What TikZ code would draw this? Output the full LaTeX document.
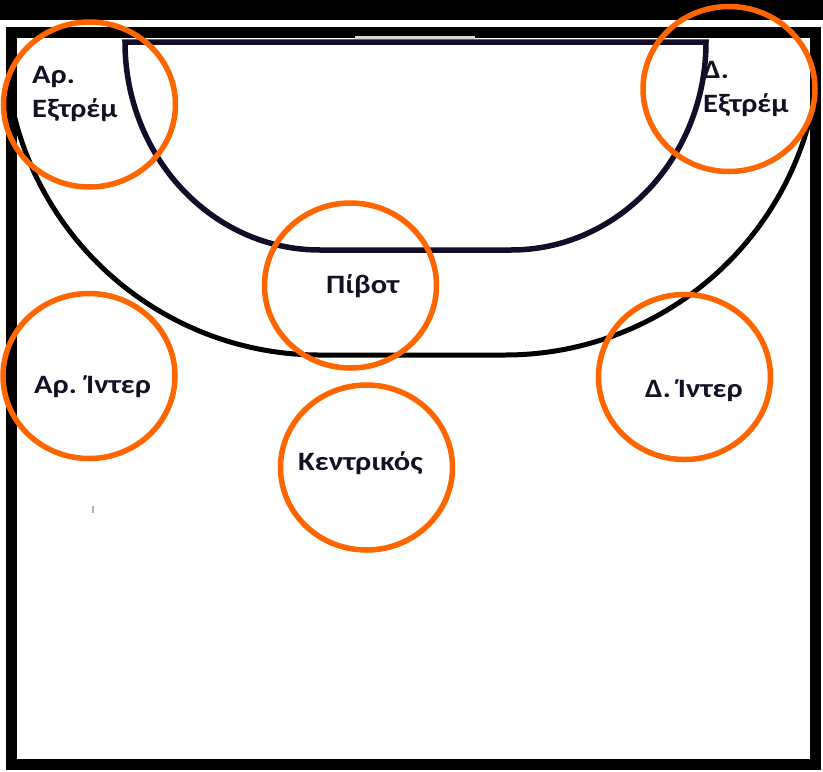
\documentclass[tikz,border=0pt]{standalone}
\usepackage{fontspec}
\setmainfont{Carlito}[FakeStretch=1.15]
\usetikzlibrary{shapes.geometric}
\definecolor{ringc}{RGB}{255,102,0}
\definecolor{navy}{RGB}{20,12,40}
\definecolor{txt}{RGB}{18,18,36}
\definecolor{goalc}{RGB}{215,215,215}
\begin{document}
\begin{tikzpicture}[x=1pt,y=-1pt,
  ring/.style={draw=ringc, line width=5.5pt, ellipse, minimum width=172pt, minimum height=165pt, inner sep=0pt},
  lab/.style={font=\fontsize{26.5}{34}\selectfont\bfseries, text=txt, inner sep=0pt, align=left},
  courtline/.style={draw=black, line width=11pt, line join=miter},
  sixm/.style={draw=navy, line width=5.5pt, line join=miter},
  ninem/.style={draw=black, line width=5pt}]
\useasboundingbox (0,0) rectangle (823,772);
\fill[white] (0,0) rectangle (823,772);
\fill[black] (0,0) rectangle (823,20);
% 9 m line
\draw[ninem] (11.9,105.5) arc[start angle=168, end angle=90, radius=315] -- (505,355) arc[start angle=90, end angle=12, radius=315];
% 6 m line
\draw[sixm] (125,42) arc[start angle=180, end angle=90, x radius=195, y radius=208] -- (511,250) arc[start angle=90, end angle=0, x radius=195, y radius=208] -- cycle;
% court
\draw[courtline] (11.5,32) rectangle (815,764);
% goal
\draw[goalc, line width=3pt] (355,37.5) -- (475,37.5);
\draw[gray!60, line width=1.5pt] (93,506) -- (93,513);
% rings
\node[ring] (c1) at (89.5,104.5) {};
\node[ring] (c2) at (729,89) {};
\node[ring] (c3) at (350.5,285.5) {};
\node[ring] (c4) at (89,376) {};
\node[ring] (c5) at (684.5,377) {};
\node[ring] (c6) at (366.5,467.5) {};
% labels
\node[lab, anchor=north west] (t1) at (32,66) {Αρ.\\Εξτρέμ};
\node[lab, anchor=north west] (t2) at (703,61) {Δ.\\Εξτρέμ};
\node[lab, anchor=base west] (t3) at (326,293) {Πίβοτ};
\node[lab, anchor=base west] (t4) at (34,393) {Αρ. Ίντερ};
\node[lab, anchor=base west] (t5) at (645,397) {Δ. Ίντερ};
\node[lab, anchor=base west] (t6) at (298,470) {Κεντρικός};
\end{tikzpicture}
\end{document}
